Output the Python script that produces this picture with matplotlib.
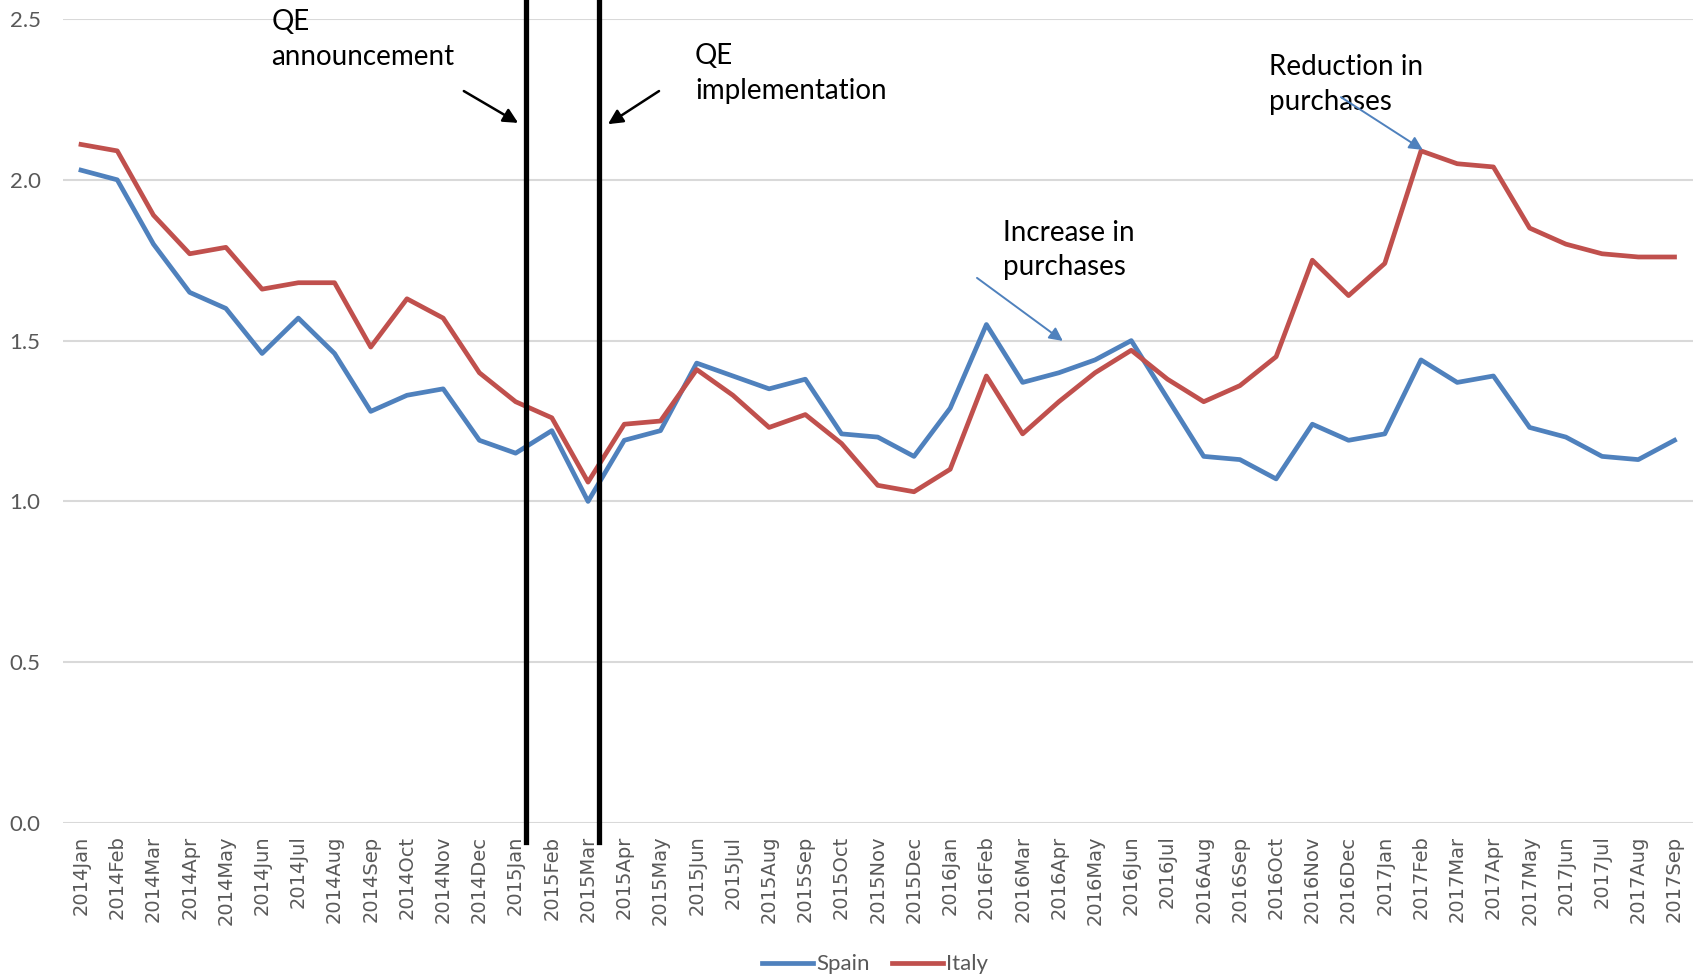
import matplotlib
matplotlib.use("Agg")
import matplotlib.pyplot as plt
import numpy as np

# monthly series 2014Jan .. 2017Sep
years = [2014, 2015, 2016, 2017]
month_names = ['Jan', 'Feb', 'Mar', 'Apr', 'May', 'Jun', 'Jul', 'Aug', 'Sep', 'Oct', 'Nov', 'Dec']
labels = [f'{y}{m}' for y in years for m in month_names][:45]

spain = [2.03, 2.00, 1.80, 1.65, 1.60, 1.46, 1.57, 1.46, 1.28, 1.33, 1.35, 1.19,
         1.15, 1.22, 1.00, 1.19, 1.22, 1.43, 1.39, 1.35, 1.38, 1.21, 1.20, 1.14,
         1.29, 1.55, 1.37, 1.40, 1.44, 1.50, 1.32, 1.14, 1.13, 1.07, 1.24, 1.19,
         1.21, 1.44, 1.37, 1.39, 1.23, 1.20, 1.14, 1.13, 1.19]
italy = [2.11, 2.09, 1.89, 1.77, 1.79, 1.66, 1.68, 1.68, 1.48, 1.63, 1.57, 1.40,
         1.31, 1.26, 1.06, 1.24, 1.25, 1.41, 1.33, 1.23, 1.27, 1.18, 1.05, 1.03,
         1.10, 1.39, 1.21, 1.31, 1.40, 1.47, 1.38, 1.31, 1.36, 1.45, 1.75, 1.64,
         1.74, 2.09, 2.05, 2.04, 1.85, 1.80, 1.77, 1.76, 1.76]

# QE event markers (category positions)
qe_lines = [12.3, 14.3]

BLUE = '#4F81BD'
RED = '#C0504D'
GRAY = '#595959'

fig = plt.figure(figsize=(16.96, 9.8), dpi=100)
ax = fig.add_axes([0.0371, 0.1602, 0.9609, 0.8204])

x = np.arange(len(labels))
ax.plot(x, spain, color=BLUE, lw=3.4, label='Spain', solid_joinstyle='round')
ax.plot(x, italy, color=RED, lw=3.4, label='Italy', solid_joinstyle='round')

ax.set_xlim(-0.5, len(labels) - 0.5)
ax.set_ylim(0, 2.5)
ax.set_yticks(np.arange(0, 2.51, 0.5))
ax.set_yticklabels([f'{v:.1f}' for v in np.arange(0, 2.51, 0.5)],
                   fontfamily='Lato', fontsize=16, color=GRAY)
ax.set_xticks(x)
ax.set_xticklabels(labels, rotation=90, fontfamily='DejaVu Sans', fontsize=14, color=GRAY)
ax.tick_params(axis='both', length=0)
ax.tick_params(axis='x', pad=9)
ax.tick_params(axis='y', pad=16)
ax.grid(axis='y', color='#D9D9D9', lw=1.5)
ax.set_axisbelow(True)
for s in ax.spines.values():
    s.set_visible(False)

for q in qe_lines:
    ax.axvline(q, ymin=-0.024, ymax=1.03, color='black', lw=3.8, clip_on=False, zorder=5)

txt = dict(fontfamily='Lato', fontsize=20, color='black', va='top', ha='left',
           linespacing=1.4, annotation_clip=False)
black_arrow = dict(arrowstyle='-|>', color='black', lw=1.8, mutation_scale=22,
                   shrinkA=0, shrinkB=0)
blue_arrow = dict(arrowstyle='-|>', color=BLUE, lw=1.4, mutation_scale=20,
                  shrinkA=0, shrinkB=0)

ax.annotate('QE\nannouncement', xy=(5.25, 2.53), **txt)
ax.annotate('QE\nimplementation', xy=(16.95, 2.425), **txt)
ax.annotate('Increase in\npurchases', xy=(25.46, 1.875), **txt)
ax.annotate('Reduction in\npurchases', xy=(32.80, 2.39), **txt)

ax.annotate('', xy=(12.07, 2.177), xytext=(10.57, 2.276), arrowprops=black_arrow, annotation_clip=False)
ax.annotate('', xy=(14.55, 2.173), xytext=(15.96, 2.276), arrowprops=black_arrow, annotation_clip=False)
ax.annotate('', xy=(27.11, 1.499), xytext=(24.74, 1.695), arrowprops=blue_arrow)
ax.annotate('', xy=(37.05, 2.093), xytext=(34.79, 2.257), arrowprops=blue_arrow)

leg = fig.legend(loc='center', bbox_to_anchor=(0.516, 0.016), ncol=2, frameon=False,
                 prop={'family': 'Lato', 'size': 16}, handlelength=2.3,
                 handletextpad=0.15, columnspacing=1.0)
for t in leg.get_texts():
    t.set_color(GRAY)

fig.savefig('out.png', dpi=100)
